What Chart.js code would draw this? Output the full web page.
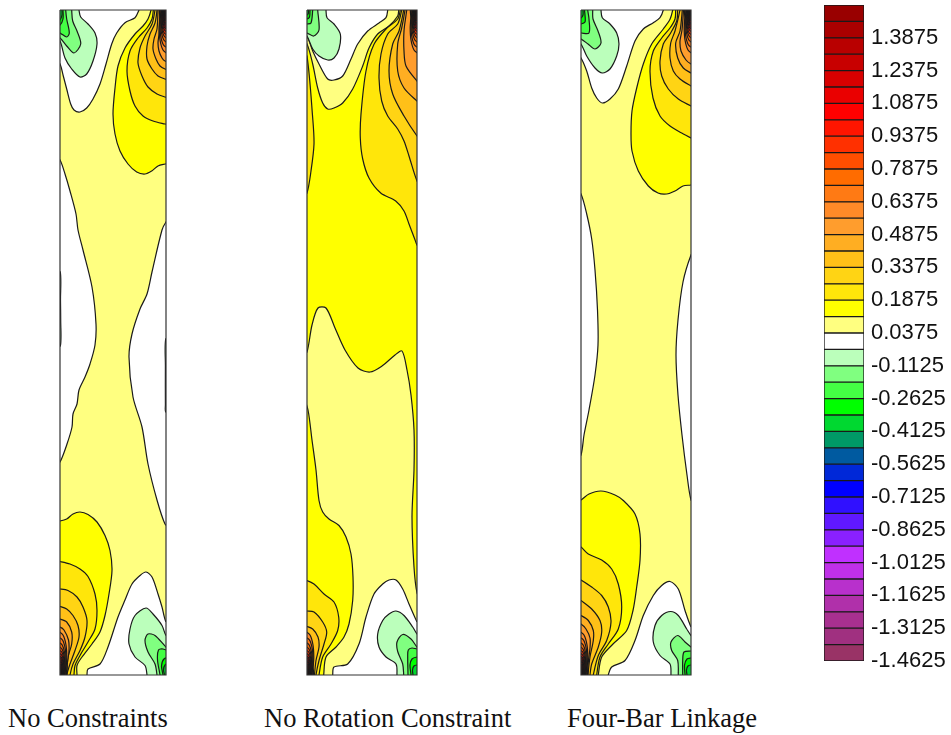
<!DOCTYPE html>
<html>
<head>
<meta charset="utf-8">
<title>Contours</title>
<script src="https://cdn.jsdelivr.net/npm/chart.js@4"></script>
<style>
   body { margin: 0; background: #ffffff; }
   canvas { position: absolute; }
   .caption { position: absolute; top: 703px; font: 26.5px "Liberation Serif", serif; color: #111111; white-space: nowrap; }
</style>
</head>
<body>
<canvas id="panel1" style="left:56px;top:6px;width:114px;height:673px"></canvas>
<canvas id="panel2" style="left:303px;top:6px;width:118px;height:673px"></canvas>
<canvas id="panel3" style="left:577px;top:6px;width:118px;height:673px"></canvas>
<canvas id="legend" style="left:820px;top:0;width:131px;height:700px"></canvas>
<div class="caption" id="cap1" style="left:8px"></div>
<div class="caption" id="cap2" style="left:264px"></div>
<div class="caption" id="cap3" style="left:567px"></div>
<script>
//1) DATA//
const panelTitles = ["No Constraints", "No Rotation Constraint", "Four-Bar Linkage"]
const tickLabels = ["-1.4625", "-1.3125", "-1.1625", "-1.0125", "-0.8625", "-0.7125", "-0.5625", "-0.4125", "-0.2625", "-0.1125",
   "0.0375", "0.1875", "0.3375", "0.4875", "0.6375", "0.7875", "0.9375", "1.0875", "1.2375", "1.3875"]
const levelEdges = [-1.4625, -1.3875, -1.3125, -1.2375, -1.1625, -1.0875, -1.0125, -0.9375, -0.8625, -0.7875,
   -0.7125, -0.6375, -0.5625, -0.4875, -0.4125, -0.3375, -0.2625, -0.1875, -0.1125, -0.0375,
   0.0375, 0.1125, 0.1875, 0.2625, 0.3375, 0.4125, 0.4875, 0.5625, 0.6375, 0.7125,
   0.7875, 0.8625, 0.9375, 1.0125, 1.0875, 1.1625, 1.2375, 1.3125, 1.3875, 1.4625, 1.5375]
const levelColors = ['#993366', '#a03080', '#a83090', '#b030aa', '#b830cc', '#c030e8', '#c030ff', '#8a20ff', '#6018ff', '#3010ff',
   '#0000ff', '#0028d8', '#005aa0', '#009966', '#00d830', '#00ff00', '#44ff44', '#80ff80', '#bbffbb', '#ffffff',
   '#ffff80', '#ffff00', '#ffe60a', '#ffd414', '#ffc018', '#ffae22', '#ff9d2d', '#ff8a28', '#ff7a14', '#ff6c00',
   '#ff4e00', '#ff3000', '#ff1500', '#ff0000', '#ea0000', '#d80000', '#c80000', '#b90000', '#aa0000', '#990000']

// corner contours, [distance from the long side, distance from the short side]
const cornerFans = [
   [[-3, 45], [3, 40], [6, 30], [6.8, 18], [6.2, 8], [6, -3]],
   [[-3, 39], [2.5, 35], [5.3, 26], [6, 15], [5.5, 6], [5.3, -3]],
   [[-3, 34], [2.2, 30], [4.7, 22], [5.3, 13], [4.9, 5], [4.7, -3]],
   [[-3, 30], [2, 26], [4.2, 19], [4.7, 11], [4.3, 4], [4.2, -3]],
   [[-3, 26], [1.8, 23], [3.7, 17], [4.2, 9.5], [3.8, 3], [3.7, -3]],
   [[-3, 23], [1.6, 20], [3.3, 15], [3.7, 8], [3.3, 3], [3.2, -3]],
   [[-3, 20], [1.4, 17.5], [2.9, 13], [3.2, 7], [2.8, -3]],
   [[-3, 18], [1.2, 15.5], [2.5, 11], [2.8, 6], [2.4, -3]],
   [[-3, 16], [1, 13.5], [2.1, 10], [2.4, 5], [2, -3]],
   [[-3, 14], [.9, 12], [1.8, 8], [1.9, 4], [1.6, -3]],
   [[-3, 12], [.7, 10], [1.1, 7], [1.2, 3], [1.2, -3]],
   [[-3, 10], [.5, 8], [.9, 5], [.9, -3]],
   [[-3, 8], [.3, 6], [.6, 3], [.6, -3]]
]

// panel 1, No Constraints
const p1Base = [[-4, -4], [110, -4], [110, 669], [-4, 669]]
const p1TopWhite = [[-4, 51], [0, 54], [3.3, 66], [6.7, 79], [10.7, 94], [14, 100], [20, 102], [26.7, 98], [33, 89], [40, 74], [46, 54], [51.7, 34], [56.7, 23], [65, 12.7], [75, 7.7], [79, 0], [80, -4], [-4, -4]]
const p1LeftWhite = [[-4, 148], [0, 150], [5, 164], [10, 181], [16, 204], [18, 220], [23, 240], [32, 277], [36, 314], [35, 335], [30, 354], [25, 367], [19, 380], [17, 394], [13, 404], [12, 417], [7, 434], [0, 452], [-4, 454]]
const p1RightWhite = [[110, 208], [106, 212], [102, 220], [92, 262], [87, 284], [80, 299], [72, 324], [69, 347], [73, 387], [82, 417], [88, 454], [97, 490], [105, 514], [110, 518]]
const p1BottomWhite = [[27, 669], [27, 665], [28, 659], [40, 654], [48, 637], [58, 607], [65, 590], [72, 574], [80, 565.5], [86, 562], [92, 567], [98, 584], [102, 597], [106, 612], [110, 612], [110, 669]]
const p1LeftSliver = [[-4, 262], [.3, 262], [.5, 290], [.7, 310], [.4, 336], [-4, 336]]
const p1RightSliver = [[110, 329], [105.7, 329], [105.4, 355], [105.4, 395], [105.7, 402], [110, 402]]
const p1TopGreen1 = [[-4, 29], [0, 31], [5, 48], [11.7, 59], [20, 67], [26.7, 64], [33, 51], [37, 34], [35, 23], [28, 14], [20.7, 7], [19, 0], [19, -4], [-4, -4]]
const p1TopGreen2 = [[-4, 27], [0, 28], [6.7, 36], [14, 43], [20.7, 34], [17, 21], [12.7, 11], [11.7, 0], [11.7, -4], [-4, -4]]
const p1TopGreen3 = [[-4, 22], [0, 23], [6.7, 27], [9.3, 23], [6.7, 9], [5.7, 0], [5.7, -4], [-4, -4]]
const p1TopGreen4 = [[-4, 15], [0, 15], [3, 9], [3, 0], [3, -4], [-4, -4]]
const p1TopGreen5 = [[-4, 10], [0, 10], [2, 5], [2, 0], [2, -4], [-4, -4]]
const p1BotGreen1 = [[87, 669], [87, 665], [85, 655.5], [75, 647], [69, 634], [70, 619], [75, 605.5], [86, 598], [93, 604], [102, 615.5], [106, 625.5], [110, 627], [110, 669]]
const p1BotGreen2 = [[97, 669], [97, 665], [95, 654], [88, 642], [85, 630.5], [88, 624], [95, 625.5], [106, 637], [110, 639], [110, 669]]
const p1BotGreen3 = [[100, 669], [100, 665], [97.5, 650], [98.5, 640], [103, 639], [110, 643], [110, 669]]
const p1BotGreen4 = [[103, 669], [103, 665], [101.5, 656], [104, 649], [110, 648], [110, 669]]
const p1BotGreen5 = [[104.5, 669], [104.5, 665], [103.5, 660], [105, 655], [110, 653], [110, 669]]
const p1TopBand1 = [[110, 153], [105, 154], [98, 156], [91.7, 161], [85, 164], [76.7, 162], [68, 154], [60, 141], [55, 124], [53, 104], [55, 78], [58, 56], [65, 38], [75, 24], [83, 16], [88, 9], [91, 0], [91, -4], [110, -4]]
const p1TopBand2 = [[110, 115], [105, 114], [93, 111], [83, 106], [75, 96], [70, 81], [67, 61], [70, 41], [78, 28], [87, 18], [92, 9], [93.3, 0], [93.3, -4], [110, -4]]
const p1TopBand3 = [[110, 88], [105, 87], [97, 84], [88, 77], [82, 66], [78, 53], [80, 38], [85, 26], [92, 14], [95, 0], [95, -4], [110, -4]]
const p1TopBand4 = [[110, 70], [105, 69], [98, 66], [92, 59], [87, 49], [87, 36], [90, 24], [95, 13], [97, 0], [97, -4], [110, -4]]
const p1TopBand5 = [[110, 60], [105, 59], [100, 56], [96, 49], [93, 39], [94, 29], [97, 19], [98, 0], [98, -4], [110, -4]]
const p1TopBand6 = [[110, 52], [105, 51], [102, 48], [99, 41], [98, 33], [99, 24], [100, 0], [100, -4], [110, -4]]
const p1BotBand1 = [[-4, 511], [0, 511], [6.7, 509], [13, 504], [20, 502], [28, 504.5], [37, 512], [45, 525.5], [50, 540.5], [52, 560.5], [49, 584], [45, 605.5], [40, 622], [32, 634], [22, 647], [17, 655.5], [17, 665], [17, 669], [-4, 669]]
const p1BotBand2 = [[-4, 551], [0, 551.5], [10, 554], [20, 559], [28, 566.5], [35, 584], [37, 600.5], [35, 619], [28, 632], [20, 645.5], [15, 655.5], [14, 665], [14, 669], [-4, 669]]
const p1BotBand3 = [[-4, 579], [0, 579], [8, 580.5], [17, 587], [23, 597], [27, 610.5], [25, 627], [20, 640.5], [13, 654], [10, 665], [10, 669], [-4, 669]]
const p1BotBand4 = [[-4, 596], [0, 596.5], [6.7, 599], [13, 605.5], [18, 615.5], [19, 627], [15, 640.5], [10, 654], [6.7, 665], [6.7, 669], [-4, 669]]
const p1BotBand5 = [[-4, 609], [0, 609], [6.7, 612], [11.7, 622], [11.7, 634], [8, 647], [6.8, 665], [6.8, 669], [-4, 669]]
const p1BotBand6 = [[-4, 617], [0, 617], [4, 620], [8.5, 630], [9, 641], [7.5, 652], [6.4, 665], [6.4, 669], [-4, 669]]

// panel 2, No Rotation Constraint
const p2Base = [[-4, -4], [114, -4], [114, 669], [-4, 669]]
const p2LeftStrip = [[-4, 44], [0, 46], [5.7, 108], [7, 134], [4, 161], [0, 183], [-4, 186]]
const p2TopBand0 = [[-4, 32], [0, 34], [5.7, 54], [10.7, 78], [15.7, 93], [20.7, 99], [27, 98], [35.7, 93], [45.7, 79], [55.7, 56], [62, 38], [70.7, 24], [82, 16], [90.7, 6], [91.7, 0], [91.7, -4], [-4, -4]]
const p2TopWhite = [[-4, 24], [0, 26], [5.7, 41], [12, 54], [20.7, 69], [27, 70], [35.7, 66], [44, 49], [50.7, 34], [60.7, 21], [72, 13], [79, 7.7], [80.7, 0], [80.7, -4], [-4, -4]]
const p2TopGreen1 = [[-4, 24], [0, 26], [5.7, 39], [12, 46], [20.7, 50], [27, 48], [32, 39], [33.3, 24], [27, 14], [20, 7.7], [19, 0], [19, -4], [-4, -4]]
const p2TopGreen2 = [[-4, 22], [0, 23], [6.7, 26], [12, 20], [10.7, 0], [10.7, -4], [-4, -4]]
const p2TopGreen3 = [[-4, 14], [0, 14], [4, 13], [5.7, 0], [5.7, -4], [-4, -4]]
const p2TopGreen4 = [[-4, 9], [0, 9], [2.5, 7], [3, 0], [3, -4], [-4, -4]]
const p2TopGreen5 = [[-4, 5], [0, 5], [1.5, 3], [1.5, 0], [1.5, -4], [-4, -4]]
const p2Middle = [[-4, 344], [0, 342], [5, 315], [11, 298], [19, 298], [28, 318], [38, 340], [51, 358], [63, 362], [75, 356], [88, 345], [95, 341], [100, 360], [104, 385], [107, 420], [107, 460], [105, 507], [107, 557], [110, 583], [114, 590], [114, 669], [16.7, 669], [16.7, 665], [19, 647], [29, 637], [37, 627], [42, 614], [45.7, 590.5], [46, 567], [44, 544], [39, 527], [32, 515.5], [22, 509], [15.7, 502], [12, 490.5], [9, 460], [5, 430], [1, 400], [-4, 385]]
const p2BotWhite = [[25.7, 669], [25.7, 665], [27, 657], [40.7, 654], [52, 634], [59, 607], [67, 584], [75.7, 574], [82, 570], [89, 570], [95.7, 579], [102, 594], [110, 612], [114, 618], [114, 669]]
const p2BotGreen1 = [[90, 669], [90, 665], [89, 654], [79, 647], [72, 637], [70.7, 624], [75.7, 610.5], [82, 604], [89, 601], [97, 605.5], [105.7, 617], [110, 624], [114, 628], [114, 669]]
const p2BotGreen2 = [[96.7, 669], [96.7, 665], [95.7, 654], [90.7, 641.5], [90, 632], [95.7, 624.5], [104, 629], [110, 637], [114, 640], [114, 669]]
const p2BotGreen3 = [[101, 669], [101, 665], [100.7, 647], [101.3, 640], [105, 638], [110, 639], [114, 639], [114, 669]]
const p2BotGreen4 = [[104, 669], [104, 665], [103, 655], [105, 649], [110, 647], [114, 647], [114, 669]]
const p2BotGreen5 = [[106, 669], [106, 665], [105.5, 660], [107, 656], [110, 655], [114, 655], [114, 669]]
const p2TopBand2 = [[93.3, -4], [93.3, 0], [90.7, 9], [79, 19], [67, 34.3], [59, 61], [54, 104], [53.3, 128], [55.7, 149], [62, 168], [73.7, 183], [88.7, 191], [97, 201], [102, 214], [107.7, 229], [110, 235], [114, 240], [114, -4]]
const p2TopBand3 = [[94.7, -4], [94.7, 0], [90.7, 14], [80.7, 24], [74, 44], [72, 68], [74.7, 91], [80.7, 106], [90.7, 119], [97, 131], [102, 146], [110, 171], [114, 175], [114, -4]]
const p2TopBand4 = [[96.7, -4], [96.7, 0], [92, 21], [85.7, 34], [82, 61], [85.7, 84], [97, 106], [110, 126], [114, 130], [114, -4]]
const p2TopBand5 = [[98, -4], [98, 0], [94.7, 18], [90.7, 34], [90.7, 61], [97, 78], [110, 91], [114, 94], [114, -4]]
const p2TopBand6 = [[99.7, -4], [99.7, 0], [97, 21], [97, 41], [99, 56], [110, 71], [114, 74], [114, -4]]
const p2BotBand2 = [[-4, 570], [0, 570.5], [7, 574], [17, 584], [27, 592], [31.7, 607], [30.7, 620.5], [24, 634], [15.7, 647], [12, 665], [12, 669], [-4, 669]]
const p2BotBand3 = [[-4, 601], [0, 601], [7, 602], [15.7, 612], [19.7, 622], [17, 634], [12, 650.5], [9, 665], [9, 669], [-4, 669]]
const p2BotBand4 = [[-4, 616], [0, 616.5], [5.7, 619], [11, 627], [12, 637], [9, 650.5], [7.5, 665], [7.5, 669], [-4, 669]]

// panel 3, Four-Bar Linkage
const p3Base = [[-4, -4], [114, -4], [114, 669], [-4, 669]]
const p3TopWhite = [[-4, 45], [0, 48], [5.7, 61], [10.7, 78], [15.7, 88], [21.3, 93], [29, 89], [37.3, 79], [45.7, 56], [54, 31], [62.3, 19], [72.3, 12.7], [79, 7.7], [82.3, 0], [82.3, -4], [-4, -4]]
const p3LeftWhite = [[-4, 182], [0, 184], [5.7, 204], [10.7, 229], [14, 260], [16.5, 300], [17, 335], [14, 365], [8, 400], [3, 425], [0, 445], [-4, 447]]
const p3RightWhite = [[114, 240], [110, 245], [102, 272], [97, 310], [95, 345], [97, 385], [101, 425], [106, 465], [110, 490], [114, 494]]
const p3BotWhite = [[27.3, 669], [27.3, 665], [30.7, 657], [44, 650.5], [54, 630.5], [62.3, 605.5], [72.3, 585.5], [80.7, 575.5], [89, 571.5], [97.3, 579], [104, 600.5], [110, 617], [114, 622], [114, 669]]
const p3TopGreen1 = [[-4, 32], [0, 34], [5.7, 46], [14, 58], [21.3, 63], [29, 59], [35.7, 46], [38, 34], [35.7, 23], [29, 14], [21.3, 7.7], [20, 0], [20, -4], [-4, -4]]
const p3TopGreen2 = [[-4, 28], [0, 29], [7, 34], [14, 39], [20, 33], [17, 21], [12, 9], [11.7, 0], [11.7, -4], [-4, -4]]
const p3TopGreen3 = [[-4, 23], [0, 23], [8, 23], [8, 9], [6.7, 0], [6.7, -4], [-4, -4]]
const p3TopGreen4 = [[-4, 14], [0, 14], [4, 12], [4, 5], [3.5, 0], [3.5, -4], [-4, -4]]
const p3TopGreen5 = [[-4, 8], [0, 8], [2, 5], [2, 0], [2, -4], [-4, -4]]
const p3BotGreen1 = [[90, 669], [90, 665], [89, 654], [79, 645.5], [72.3, 632], [74, 615.5], [80.7, 605.5], [89.7, 601.5], [97.3, 605.5], [105.7, 619], [110, 625.5], [114, 629], [114, 669]]
const p3BotGreen2 = [[97.3, 669], [97.3, 665], [96.7, 650.5], [90.7, 640.5], [90, 632], [96.7, 625.5], [104, 632], [110, 637], [114, 640], [114, 669]]
const p3BotGreen3 = [[101.7, 669], [101.7, 665], [101.7, 650.5], [103, 642], [110, 641], [114, 641], [114, 669]]
const p3BotGreen4 = [[104, 669], [104, 665], [103.5, 655], [106, 649], [110, 648], [114, 648], [114, 669]]
const p3BotGreen5 = [[106, 669], [106, 665], [105.5, 660], [107, 656], [110, 655], [114, 655], [114, 669]]
const p3TopBand1 = [[114, 174], [110, 175], [102, 176], [94, 181], [85.7, 184], [77, 183], [67.3, 176], [57.3, 161], [51, 141], [50, 124], [51, 101], [55.7, 78], [62.3, 54], [70.7, 34], [82.3, 19], [89, 9.3], [91.7, 0], [91.7, -4], [114, -4]]
const p3TopBand2 = [[114, 131], [110, 128], [100.7, 123], [89, 116], [79, 106], [72, 88], [69, 61], [72.3, 41], [80.7, 28], [89, 18], [94, 9], [94.7, 0], [94.7, -4], [114, -4]]
const p3TopBand3 = [[114, 98], [110, 96], [97.3, 89], [87.3, 79], [80.7, 66], [79, 51], [82.3, 34], [89, 24], [95.7, 11], [96.7, 0], [96.7, -4], [114, -4]]
const p3TopBand4 = [[114, 78], [110, 76], [99, 69], [92.3, 61], [89, 48], [89.7, 33], [94, 21], [99, 0], [99, -4], [114, -4]]
const p3TopBand5 = [[114, 65], [110, 63], [102.3, 58], [96.7, 48], [94.7, 33], [99, 21], [101.3, 0], [101.3, -4], [114, -4]]
const p3TopBand6 = [[114, 55], [110, 54], [105, 50], [100, 41], [99, 31], [101, 20], [102.5, 0], [102.5, -4], [114, -4]]
const p3BotBand1 = [[-4, 491], [0, 490], [8, 484], [20, 481], [34, 485], [42.3, 490.5], [54, 504], [59, 524], [59, 550.5], [55.7, 577], [52, 600.5], [45.7, 620.5], [32, 634], [20.7, 647], [17.3, 665], [17.3, 669], [-4, 669]]
const p3BotBand2 = [[-4, 535], [0, 537], [7.3, 544], [20.7, 550], [30.7, 559], [37.3, 574], [40.7, 597], [37.3, 619], [27.3, 634], [19, 647], [15.7, 665], [15.7, 669], [-4, 669]]
const p3BotBand3 = [[-4, 568], [0, 570], [10.7, 577], [20.7, 585.5], [27.3, 597], [30, 612], [25.7, 630.5], [17.3, 645.5], [12.3, 665], [12.3, 669], [-4, 669]]
const p3BotBand4 = [[-4, 588], [0, 590.5], [10.7, 599], [19, 610.5], [20.7, 622], [17.3, 637], [10.7, 654], [9, 665], [9, 669], [-4, 669]]
const p3BotBand5 = [[-4, 604], [0, 605.5], [7.3, 610.5], [12.3, 620.5], [12.3, 630.5], [9, 647], [7, 665], [7, 669], [-4, 669]]
const p3BotBand6 = [[-4, 613], [0, 614], [5, 619], [9, 628], [9, 638], [7.5, 650], [6.5, 665], [6.5, 669], [-4, 669]]

// what each panel paints, bottom layer first, as [level index, contour]
const panel1Layers = [[20, p1Base], [19, p1TopWhite], [19, p1LeftWhite], [19, p1RightWhite], [19, p1BottomWhite], [18, p1LeftSliver], [18, p1RightSliver],
   [18, p1TopGreen1], [17, p1TopGreen2], [16, p1TopGreen3], [15, p1TopGreen4], [14, p1TopGreen5],
   [18, p1BotGreen1], [17, p1BotGreen2], [16, p1BotGreen3], [15, p1BotGreen4], [14, p1BotGreen5],
   [21, p1TopBand1], [22, p1TopBand2], [23, p1TopBand3], [24, p1TopBand4], [25, p1TopBand5], [26, p1TopBand6],
   [21, p1BotBand1], [22, p1BotBand2], [23, p1BotBand3], [24, p1BotBand4], [25, p1BotBand5], [26, p1BotBand6]]
const panel2Layers = [[21, p2Base], [22, p2LeftStrip], [20, p2TopBand0], [19, p2TopWhite],
   [18, p2TopGreen1], [17, p2TopGreen2], [16, p2TopGreen3], [15, p2TopGreen4], [14, p2TopGreen5],
   [20, p2Middle], [19, p2BotWhite], [18, p2BotGreen1], [17, p2BotGreen2], [16, p2BotGreen3], [15, p2BotGreen4], [14, p2BotGreen5],
   [22, p2TopBand2], [23, p2TopBand3], [24, p2TopBand4], [25, p2TopBand5], [26, p2TopBand6],
   [22, p2BotBand2], [23, p2BotBand3], [24, p2BotBand4]]
const panel3Layers = [[20, p3Base], [19, p3TopWhite], [19, p3LeftWhite], [19, p3RightWhite], [19, p3BotWhite],
   [18, p3TopGreen1], [17, p3TopGreen2], [16, p3TopGreen3], [15, p3TopGreen4], [14, p3TopGreen5],
   [18, p3BotGreen1], [17, p3BotGreen2], [16, p3BotGreen3], [15, p3BotGreen4], [14, p3BotGreen5],
   [21, p3TopBand1], [22, p3TopBand2], [23, p3TopBand3], [24, p3TopBand4], [25, p3TopBand5], [26, p3TopBand6],
   [21, p3BotBand1], [22, p3BotBand2], [23, p3BotBand3], [24, p3BotBand4], [25, p3BotBand5], [26, p3BotBand6]]

//2) PANELS//
const panelHeight = 665

function contourDataset(level, points, order) {
   return {
      data: points.map(p => ({ x: p[0], y: p[1] })),
      showLine: true,
      fill: 'shape',
      backgroundColor: levelColors[level],
      borderColor: '#1a1a1a',
      borderWidth: 1.2,
      tension: 0.3,
      pointRadius: 0,
      order: order
   }
}

function drawPanel(id, width, layers) {
   const all = layers.slice()
   // the fans sit in the top right and bottom left corner of every panel
   cornerFans.forEach((fan, i) => {
      all.push([27 + i, fan.map(p => [width - p[0], p[1]]).concat([[width + 3, -3]])])
      all.push([27 + i, fan.map(p => [p[0], panelHeight - p[1]]).concat([[-3, panelHeight + 3]])])
   })
   const datasets = all.map((layer, i) => contourDataset(layer[0], layer[1], all.length - i + 1))
   datasets.push({
      data: [{ x: 0, y: 0 }, { x: width, y: 0 }, { x: width, y: panelHeight }, { x: 0, y: panelHeight }, { x: 0, y: 0 }],
      showLine: true,
      fill: false,
      borderColor: '#333333',
      borderWidth: 1.2,
      pointRadius: 0,
      clip: false,
      order: 0
   })
   return new Chart(document.getElementById(id), {
      type: 'scatter',
      data: { datasets: datasets },
      options: {
         responsive: false,
         animation: false,
         layout: { padding: 4 },
         plugins: { legend: { display: false }, tooltip: { enabled: false } },
         scales: {
            x: { type: 'linear', display: false, min: 0, max: width },
            y: { type: 'linear', display: false, min: 0, max: panelHeight, reverse: true }
         }
      }
   })
}

function sizeCanvas(id, w, h) {
   const c = document.getElementById(id)
   c.width = w
   c.height = h
}
sizeCanvas('panel1', 114, 673)
sizeCanvas('panel2', 118, 673)
sizeCanvas('panel3', 118, 673)
sizeCanvas('legend', 131, 700)

drawPanel('panel1', 106, panel1Layers)
drawPanel('panel2', 110, panel2Layers)
drawPanel('panel3', 110, panel3Layers)

panelTitles.forEach((t, i) => { document.getElementById('cap' + (i + 1)).textContent = t })

//3) COLOUR BAR//
new Chart(document.getElementById('legend'), {
   type: 'bar',
   data: {
      labels: [''],
      datasets: levelColors.map((color, i) => ({
         data: [[levelEdges[i], levelEdges[i + 1]]],
         backgroundColor: color,
         borderColor: '#1a1a1a',
         borderWidth: 1,
         borderSkipped: false,
         barPercentage: 1,
         categoryPercentage: 1
      }))
   },
   options: {
      responsive: false,
      animation: false,
      layout: { padding: { left: 4, top: 5, right: 0, bottom: 39 } },
      plugins: { legend: { display: false }, tooltip: { enabled: false } },
      scales: {
         x: { stacked: true, display: false },
         y: {
            position: 'right',
            min: levelEdges[0],
            max: levelEdges[levelEdges.length - 1],
            grid: { display: false, drawTicks: false },
            border: { display: false },
            afterBuildTicks: axis => { axis.ticks = tickLabels.map(t => ({ value: parseFloat(t), label: t })) },
            afterFit: axis => {
               axis.width = 87
               axis.paddingTop = 0
               axis.paddingBottom = 0
            },
            ticks: {
               autoSkip: false,
               padding: 7,
               color: '#111111',
               font: { family: '"Liberation Sans", Arial, sans-serif', size: 22 },
               callback: value => value.toFixed(4)
            }
         }
      }
   }
})
</script>
</body>
</html>
